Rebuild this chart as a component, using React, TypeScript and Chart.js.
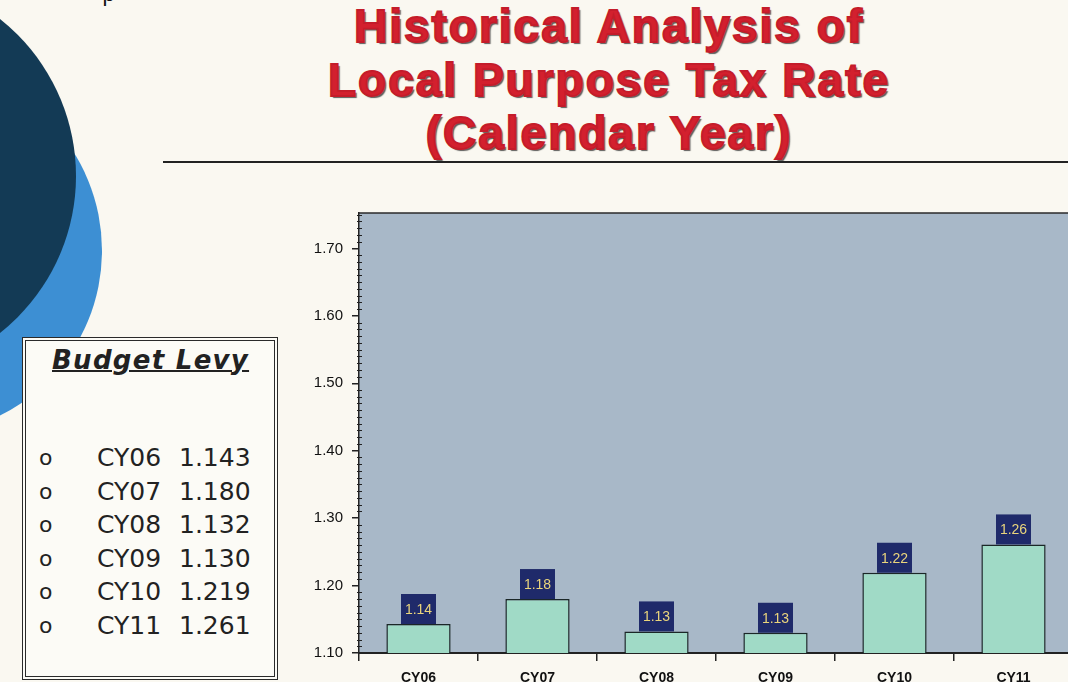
import React, { useEffect, useRef } from "react";
import { Chart, registerables } from "chart.js";

Chart.register(...registerables);

const categories = ["CY06", "CY07", "CY08", "CY09", "CY10", "CY11"];
const levyValues = [1.143, 1.18, 1.132, 1.13, 1.219, 1.261];
const yTickValues = [1.1, 1.2, 1.3, 1.4, 1.5, 1.6, 1.7];
const yMin = 1.1;
const yMax = 1.7525;
const titleLines = ["Historical Analysis of", "Local Purpose Tax Rate", "(Calendar Year)"];
const legendTitle = "Budget Levy";

const PLOT_BG = "#a8b8c8";
const BAR_FILL = "#a0dac6";
const LABEL_BG = "#1f2a6a";
const LABEL_TEXT = "#ead57c";

const decorPlugin = {
  id: "decor",
  beforeDraw(chart: any) {
    const { ctx, chartArea: a } = chart;
    ctx.save();
    ctx.fillStyle = PLOT_BG;
    ctx.fillRect(a.left, a.top, a.right - a.left, a.bottom - a.top);
    ctx.strokeStyle = "#2a2a2a";
    ctx.lineWidth = 1.5;
    ctx.beginPath();
    ctx.moveTo(a.left, a.top);
    ctx.lineTo(a.right, a.top);
    ctx.stroke();
    ctx.restore();
  },
  afterDatasetsDraw(chart: any) {
    const { ctx } = chart;
    const meta = chart.getDatasetMeta(0);
    ctx.save();
    meta.data.forEach((bar: any, i: number) => {
      const w = 35;
      const h = 30;
      const x = bar.x - w / 2;
      const y = bar.y - h;
      ctx.fillStyle = LABEL_BG;
      ctx.fillRect(x, y, w, h);
      ctx.fillStyle = LABEL_TEXT;
      ctx.font = "14px 'Liberation Sans Narrow', 'Arial Narrow', 'Liberation Sans', sans-serif";
      ctx.textAlign = "center";
      ctx.textBaseline = "middle";
      ctx.fillText(levyValues[i].toFixed(2), bar.x, bar.y - h / 2 + 1);
    });
    ctx.restore();
  },
  afterDraw(chart: any) {
    const { ctx, chartArea: a } = chart;
    const ys = chart.scales.y;
    ctx.save();
    ctx.strokeStyle = "#222";
    ctx.lineWidth = 1;
    for (let i = 111; i <= 175; i++) {
      if (i % 10 === 0) continue;
      const py = Math.round(ys.getPixelForValue(i / 100)) + 0.5;
      ctx.beginPath();
      ctx.moveTo(a.left - 2, py);
      ctx.lineTo(a.left + 3, py);
      ctx.stroke();
    }
    ctx.restore();
  },
};

function BarChart() {
  const ref = useRef<HTMLCanvasElement>(null);
  useEffect(() => {
    if (!ref.current) return;
    const chart = new Chart(ref.current, {
      type: "bar",
      data: {
        labels: categories,
        datasets: [
          {
            data: levyValues,
            backgroundColor: BAR_FILL,
            borderColor: "#1b2727",
            borderWidth: 1.5,
            barPercentage: 0.54,
            categoryPercentage: 1,
          },
        ],
      },
      options: {
        animation: false,
        responsive: false,
        devicePixelRatio: 1,
        layout: { padding: { top: 13, right: 7, left: 0, bottom: 0 } },
        plugins: {
          legend: { display: false },
          tooltip: { enabled: false },
          title: { display: false },
        },
        scales: {
          x: {
            grid: {
              drawOnChartArea: false,
              drawTicks: true,
              tickLength: 8,
              offset: true,
              color: "#222",
              lineWidth: 1.5,
            },
            border: { display: true, color: "#222", width: 2 },
            ticks: {
              color: "#111",
              padding: 9,
              font: { family: "'Liberation Sans', Arial, sans-serif", size: 14, weight: "bold" },
              maxRotation: 0,
              autoSkip: false,
            },
            afterFit: (s: any) => {
              s.height = 29;
            },
          },
          y: {
            min: yMin,
            max: yMax,
            grid: {
              drawOnChartArea: false,
              drawTicks: true,
              tickLength: 7,
              color: "#222",
              lineWidth: 1.5,
            },
            border: { display: true, color: "#222", width: 1.5 },
            ticks: {
              color: "#111",
              padding: 9,
              font: { family: "'Liberation Sans', Arial, sans-serif", size: 15 },
              callback: (v: any) => Number(v).toFixed(2),
            },
            afterBuildTicks: (s: any) => {
              s.ticks = yTickValues.map((v) => ({ value: v }));
            },
            afterFit: (s: any) => {
              s.width = 79;
            },
          },
        },
      },
      plugins: [decorPlugin],
    } as any);
    return () => chart.destroy();
  }, []);
  return <canvas ref={ref} width={800} height={487} style={{ display: "block", width: 800, height: 487 }} />;
}

export default function App() {
  return (
    <div
      style={{
        position: "fixed",
        left: 0,
        top: 0,
        width: 1068,
        height: 682,
        overflow: "hidden",
        background: "#faf8f1",
      }}
    >
      {/* decorative circles */}
      <div
        style={{
          position: "absolute",
          left: -82.5 - 184.5,
          top: 250 - 184.5,
          width: 369,
          height: 369,
          borderRadius: "50%",
          background: "#3d8fd3",
        }}
      />
      <div
        style={{
          position: "absolute",
          left: -124 - 200,
          top: 176 - 200,
          width: 400,
          height: 400,
          borderRadius: "50%",
          background: "#133a55",
        }}
      />
      {/* cut-off text fragment at top */}
      <div
        style={{
          position: "absolute",
          left: 102,
          top: -17,
          fontFamily: "'Liberation Mono', monospace",
          fontSize: 22,
          color: "#111",
        }}
      >
        p
      </div>
      {/* title */}
      <div
        style={{
          position: "absolute",
          left: 200,
          top: 0,
          width: 818,
          textAlign: "center",
          fontFamily: "'Liberation Sans', Arial, sans-serif",
          fontWeight: "bold",
          fontSize: 46,
          lineHeight: "53.5px",
          letterSpacing: 2,
          color: "#d3202e",
          WebkitTextStroke: "1.8px #c41c2a",
          textShadow: "2px 2px 1px rgba(40,40,40,0.75)",
          whiteSpace: "nowrap",
        }}
      >
        {titleLines.map((t) => (
          <div key={t}>{t}</div>
        ))}
      </div>
      {/* rule */}
      <div
        style={{
          position: "absolute",
          left: 163,
          top: 161,
          width: 905,
          height: 2,
          background: "#222",
        }}
      />
      {/* legend box */}
      <div
        style={{
          position: "absolute",
          left: 22,
          top: 337,
          width: 256,
          height: 343,
          boxSizing: "border-box",
          border: "4px double #2a2a2a",
          background: "#fcfbf6",
        }}
      />
      <div
        style={{
          position: "absolute",
          left: 52,
          top: 345,
          fontFamily: "'DejaVu Sans', Verdana, sans-serif",
          fontWeight: "bold",
          fontStyle: "italic",
          fontSize: 26,
          letterSpacing: 1.3,
          textDecoration: "underline",
          textDecorationThickness: 2,
          color: "#222",
          whiteSpace: "nowrap",
        }}
      >
        {legendTitle}
      </div>
      {categories.map((c, i) => (
        <div
          key={c}
          style={{
            position: "absolute",
            left: 0,
            top: 443 + i * 33.6,
            height: 30,
            fontFamily: "'DejaVu Sans', Verdana, sans-serif",
            fontSize: 25,
            color: "#222",
            whiteSpace: "nowrap",
          }}
        >
          <span style={{ position: "absolute", left: 39, top: 2, fontSize: 22, fontFamily: "'DejaVu Sans', sans-serif" }}>o</span>
          <span style={{ position: "absolute", left: 97, top: 0 }}>{c}</span>
          <span style={{ position: "absolute", left: 179, top: 0 }}>{levyValues[i].toFixed(3)}</span>
        </div>
      ))}
      {/* chart */}
      <div style={{ position: "absolute", left: 280, top: 195 }}>
        <BarChart />
      </div>
    </div>
  );
}
